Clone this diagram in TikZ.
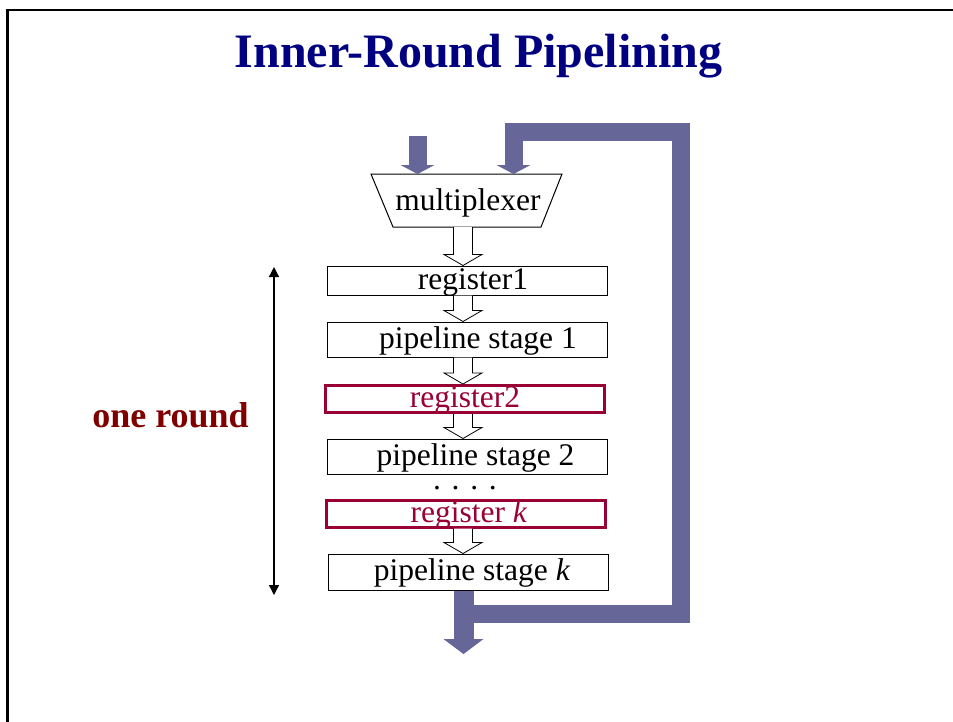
\documentclass[tikz,border=0pt]{standalone}
\usepackage{fontspec}
\setmainfont{Liberation Serif}
\usepackage{tikz}
\usetikzlibrary{arrows.meta,calc}
\definecolor{loopblue}{RGB}{102,102,153}
\definecolor{regred}{RGB}{153,0,51}
\definecolor{titlenavy}{RGB}{0,0,128}
\definecolor{rounddark}{RGB}{128,0,0}
\newcommand{\bigtip}{-{Triangle[length=9pt,width=34pt,line width=0pt]}}
\newcommand{\hollowarrow}[2]{%
  \draw[hollow] ([xshift=-9.5pt]flow |- #1) -- ([xshift=-9.5pt,yshift=11pt]flow |- #2)
    -- ([xshift=-19pt,yshift=11pt]flow |- #2) -- (flow |- #2)
    -- ([xshift=19pt,yshift=11pt]flow |- #2) -- ([xshift=9.5pt,yshift=11pt]flow |- #2)
    -- ([xshift=9.5pt]flow |- #1);}

\begin{document}
\begin{tikzpicture}[x=1pt,y=-1pt,
    txt/.style={font=\fontsize{31.5}{36}\selectfont, text height=22pt, text depth=5pt, inner sep=0pt},
    box/.style={txt, draw, line width=1pt, minimum width=280pt},
    regbox/.style={txt, draw=regred, text=regred, line width=3pt, minimum width=279pt},
    hollow/.style={draw, fill=white, line width=0.8pt, line join=miter},
    band/.style={draw=loopblue, line width=18pt, line join=miter}]
  \useasboundingbox (0,0) rectangle (953,721);
  \draw[line width=2.5pt] (7.5,730) -- (7.5,10) -- (960,10);

  \node[inner sep=0pt, anchor=base, font=\fontsize{48}{54}\selectfont\bfseries, text=titlenavy] (title) at (478.5,67) {Inner-Round Pipelining};

  % multiplexer
  \coordinate (muxtl) at (371,174);
  \coordinate (muxtr) at (562,174);
  \coordinate (muxbr) at (541,227);
  \coordinate (muxbl) at (393,227);
  \coordinate (muxbot) at (467,227);
  \draw[line width=1pt] (muxtl) -- (muxtr) -- (muxbr) -- (muxbl) -- cycle;
  \node[txt] (mux) at (468,202) {multiplexer};

  % register / stage chain
  \node[box, minimum height=29pt] (reg1) at (467,280.5) {\hspace*{12pt}register1};
  \node[box, minimum height=35pt] (stage1) at (467,339.5) {\hspace*{22pt}pipeline stage 1};
  \node[regbox, minimum height=27pt] (reg2) at (465,399) {register2};
  \node[box, minimum height=35pt] (stage2) at (467,456.5) {\hspace*{17pt}pipeline stage 2};
  \node[inner sep=0pt, anchor=base, font=\fontsize{31.5}{36}\selectfont] (dots) at (465,489) {.\hspace{0.34em}.\hspace{0.34em}.\hspace{0.34em}.};
  \node[regbox, minimum height=27pt] (regk) at (466,513.5) {\hspace*{6pt}register \textit{k}};
  \node[box, minimum height=36pt] (stagek) at (468,572) {\hspace*{8pt}pipeline stage \textit{k}};

  \coordinate (flow) at (463,0);
  \hollowarrow{muxbot}{reg1.north}
  \hollowarrow{reg1.south}{stage1.north}
  \hollowarrow{stage1.south}{reg2.north}
  \hollowarrow{reg2.south}{stage2.north}
  \hollowarrow{regk.south}{stagek.north}

  % input and feedback
  \coordinate (in) at (417.5,136);
  \coordinate (fbtop) at (513.5,132);
  \coordinate (turn) at (681,614);
  \coordinate (out) at (463.5,654);
  \draw[band, \bigtip] (in) -- (in |- muxtl);
  \draw[band, \bigtip] (out |- turn) -- (turn) -- (turn |- fbtop) -- (fbtop) -- (fbtop |- muxtl);
  \draw[band, line width=20pt, -{Triangle[length=15pt,width=40pt,line width=0pt]}] (stagek.south -| out) -- (out);

  % one round
  \coordinate (rtop) at (274,267);
  \coordinate (rbot) at (274,595);
  \draw[line width=1.3pt, {Triangle[length=10pt,width=10pt]}-{Triangle[length=10pt,width=10pt]}] (rtop) -- (rbot);
  \node[inner sep=0pt, anchor=base, font=\fontsize{36}{40}\selectfont\bfseries, text=rounddark] (oneround) at (170.5,427) {one round};
\end{tikzpicture}
\end{document}
